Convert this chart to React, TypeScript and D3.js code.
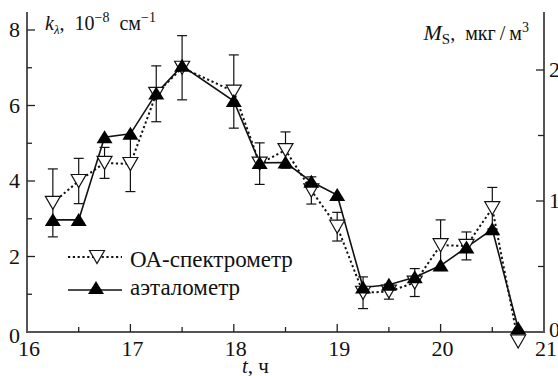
import React from 'react';
import * as d3 from 'd3';

// время, ч
const times = [16.25, 16.5, 16.75, 17, 17.25, 17.5, 18, 18.25, 18.5, 18.75, 19, 19.25, 19.5, 19.75, 20, 20.25, 20.5, 20.75];
// ОА-спектрометр, k (10^-8 см^-1)
const oaValues = [3.42, 4.0, 4.48, 4.45, 6.31, 7.0, 6.37, 4.46, 4.82, 3.75, 2.79, 1.04, 1.07, 1.31, 2.3, 2.28, 3.28, -0.25];
const oaErrors = [0.9, 0.6, 0.41, 0.73, 0.74, 0.85, 0.97, 0.55, 0.48, 0.36, 0.38, 0.42, 0.2, 0.37, 0.67, 0.37, 0.55, 0];
// аэталометр
const aethValues = [2.97, 2.97, 5.16, 5.25, 6.32, 7.05, 6.12, 4.48, 4.49, 3.98, 3.63, 1.18, 1.25, 1.45, 1.76, 2.24, 2.72, 0.1];

const xTicks = [16, 17, 18, 19, 20, 21];
const xMinor = [16.5, 17.5, 18.5, 19.5, 20.5];
const yTicks = [0, 2, 4, 6, 8];
const yMinor = [1, 3, 5, 7];
const rTicks = [0, 1, 2];
const rMinor = [0.5, 1.5];

const ink = '#111';
const axisColor = '#555';
const FF = 'Liberation Serif';

const x = d3.scaleLinear().domain([16, 21]).range([27, 544]);
const y = d3.scaleLinear().domain([0, 8]).range([332, 30]);
const yR = d3.scaleLinear().domain([0, 2]).range([332, 70]);
const top = 12;

const line = d3.line<number>().x((d, i) => x(times[i])).y(d => y(d));

const downTri = (cx: number, cy: number) =>
  `M${cx - 7.5},${cy - 6.5}L${cx + 7.5},${cy - 6.5}L${cx},${cy + 6.5}Z`;
const upTri = (cx: number, cy: number) =>
  `M${cx - 8},${cy + 6}L${cx + 8},${cy + 6}L${cx},${cy - 7}Z`;

export default function App() {
  return (
    <svg width={558} height={376} fontFamily={FF} style={{ position: 'absolute', left: 0, top: 0 }}>
      {/* оси */}
      <g stroke={axisColor} strokeWidth={2}>
        <line x1={x(16)} x2={x(16)} y1={top} y2={y(0)} />
        <line x1={x(21)} x2={x(21)} y1={top} y2={y(0)} />
        <line x1={x(16) - 1} x2={x(21) + 1} y1={y(0)} y2={y(0)} />
      </g>
      <g stroke="#222" strokeWidth={1.3}>
        {xTicks.slice(1, -1).map(t => <line key={'xt' + t} x1={x(t)} x2={x(t)} y1={y(0)} y2={y(0) - 8} />)}
        {xMinor.map(t => <line key={'xm' + t} x1={x(t)} x2={x(t)} y1={y(0)} y2={y(0) - 5} />)}
        {yTicks.slice(1).map(t => <line key={'yt' + t} x1={x(16)} x2={x(16) + 8} y1={y(t)} y2={y(t)} />)}
        {yMinor.map(t => <line key={'ym' + t} x1={x(16)} x2={x(16) + 5} y1={y(t)} y2={y(t)} />)}
        {rTicks.slice(1).map(t => <line key={'rt' + t} x1={x(21)} x2={x(21) - 8} y1={yR(t)} y2={yR(t)} />)}
        {rMinor.map(t => <line key={'rm' + t} x1={x(21)} x2={x(21) - 6} y1={yR(t)} y2={yR(t)} />)}
      </g>

      {/* подписи делений */}
      {xTicks.map(t => (
        <text key={'xl' + t} x={x(t) + 2} y={356} textAnchor="middle" fontSize={22} fill={ink}
          fontFamily={FF} style={{ fontFamily: FF }}>{String(t)}</text>
      ))}
      {yTicks.map(t => (
        <text key={'yl' + t} x={20} y={y(t) + (t === 0 ? 4 : 0)} dy="0.33em" textAnchor="end" fontSize={22} fill={ink}
          fontFamily={FF} style={{ fontFamily: FF }}>{String(t)}</text>
      ))}
      {rTicks.map(t => (
        <text key={'rl' + t} x={549} y={yR(t) + (t === 0 ? -2 : 0)} dy="0.33em" fontSize={22} fill={ink}
          fontFamily={FF} style={{ fontFamily: FF }}>{String(t)}</text>
      ))}

      {/* названия осей */}
      <text x={45} y={30} fontSize={20} fill={ink} fontFamily={FF} style={{ fontFamily: FF }}>
        <tspan fontStyle="italic">k</tspan>
        <tspan fontStyle="italic" fontSize={13} dy={4}>λ</tspan>
        <tspan dy={-4}>,{'\u2002'}10</tspan>
        <tspan fontSize={14} dy={-8}>−8</tspan>
        <tspan dy={8}>{'\u2002'}см</tspan>
        <tspan fontSize={14} dy={-8}>−1</tspan>
      </text>
      <text x={529} y={40} textAnchor="end" fontSize={20} fill={ink} fontFamily={FF} style={{ fontFamily: FF }}>
        <tspan fontStyle="italic" fontSize={22}>M</tspan>
        <tspan fontSize={15} dy={4}>S</tspan>
        <tspan dy={-4}>,{'\u2002'}мкг{'\u2009'}/{'\u2009'}м</tspan>
        <tspan fontSize={14} dy={-8}>3</tspan>
      </text>
      <text x={242} y={373} fontSize={21} fill={ink} fontFamily={FF} style={{ fontFamily: FF }}>
        <tspan fontStyle="italic">t</tspan>
        <tspan>, ч</tspan>
      </text>

      {/* полосы погрешностей */}
      <g stroke={ink} strokeWidth={1.2}>
        {times.map((t, i) => {
          if (!oaErrors[i]) return null;
          const lo = y(oaValues[i] - oaErrors[i]);
          const hi = y(oaValues[i] + oaErrors[i]);
          return (
            <g key={'e' + t}>
              <line x1={x(t)} x2={x(t)} y1={lo} y2={hi} />
              <line x1={x(t) - 5} x2={x(t) + 5} y1={lo} y2={lo} />
              <line x1={x(t) - 5} x2={x(t) + 5} y1={hi} y2={hi} />
            </g>
          );
        })}
      </g>

      {/* ОА-спектрометр */}
      <path d={line(oaValues) || ''} fill="none" stroke={ink} strokeWidth={2} strokeDasharray="2.2,2.6" />
      {/* аэталометр */}
      <path d={line(aethValues) || ''} fill="none" stroke={ink} strokeWidth={1.6} />

      {oaValues.map((d, i) => (
        <path key={'oa' + i} d={downTri(x(times[i]), y(d))} fill="#fff" stroke={ink} strokeWidth={1.2} />
      ))}
      {aethValues.map((d, i) => (
        <path key={'ae' + i} d={upTri(x(times[i]), y(d))} fill="#000" />
      ))}

      {/* легенда */}
      <line x1={68} x2={122} y1={257} y2={257} stroke={ink} strokeWidth={2} strokeDasharray="2.2,2.6" />
      <path d={downTri(97, 257)} fill="#fff" stroke={ink} strokeWidth={1.2} />
      <text x={130} y={267} fontSize={23} fill={ink} fontFamily={FF} style={{ fontFamily: FF }}>ОА-спектрометр</text>
      <line x1={68} x2={122} y1={290} y2={290} stroke={ink} strokeWidth={1.6} />
      <path d={upTri(96, 288)} fill="#000" />
      <text x={130} y={295} fontSize={23} fill={ink} fontFamily={FF} style={{ fontFamily: FF }}>аэталометр</text>
    </svg>
  );
}
